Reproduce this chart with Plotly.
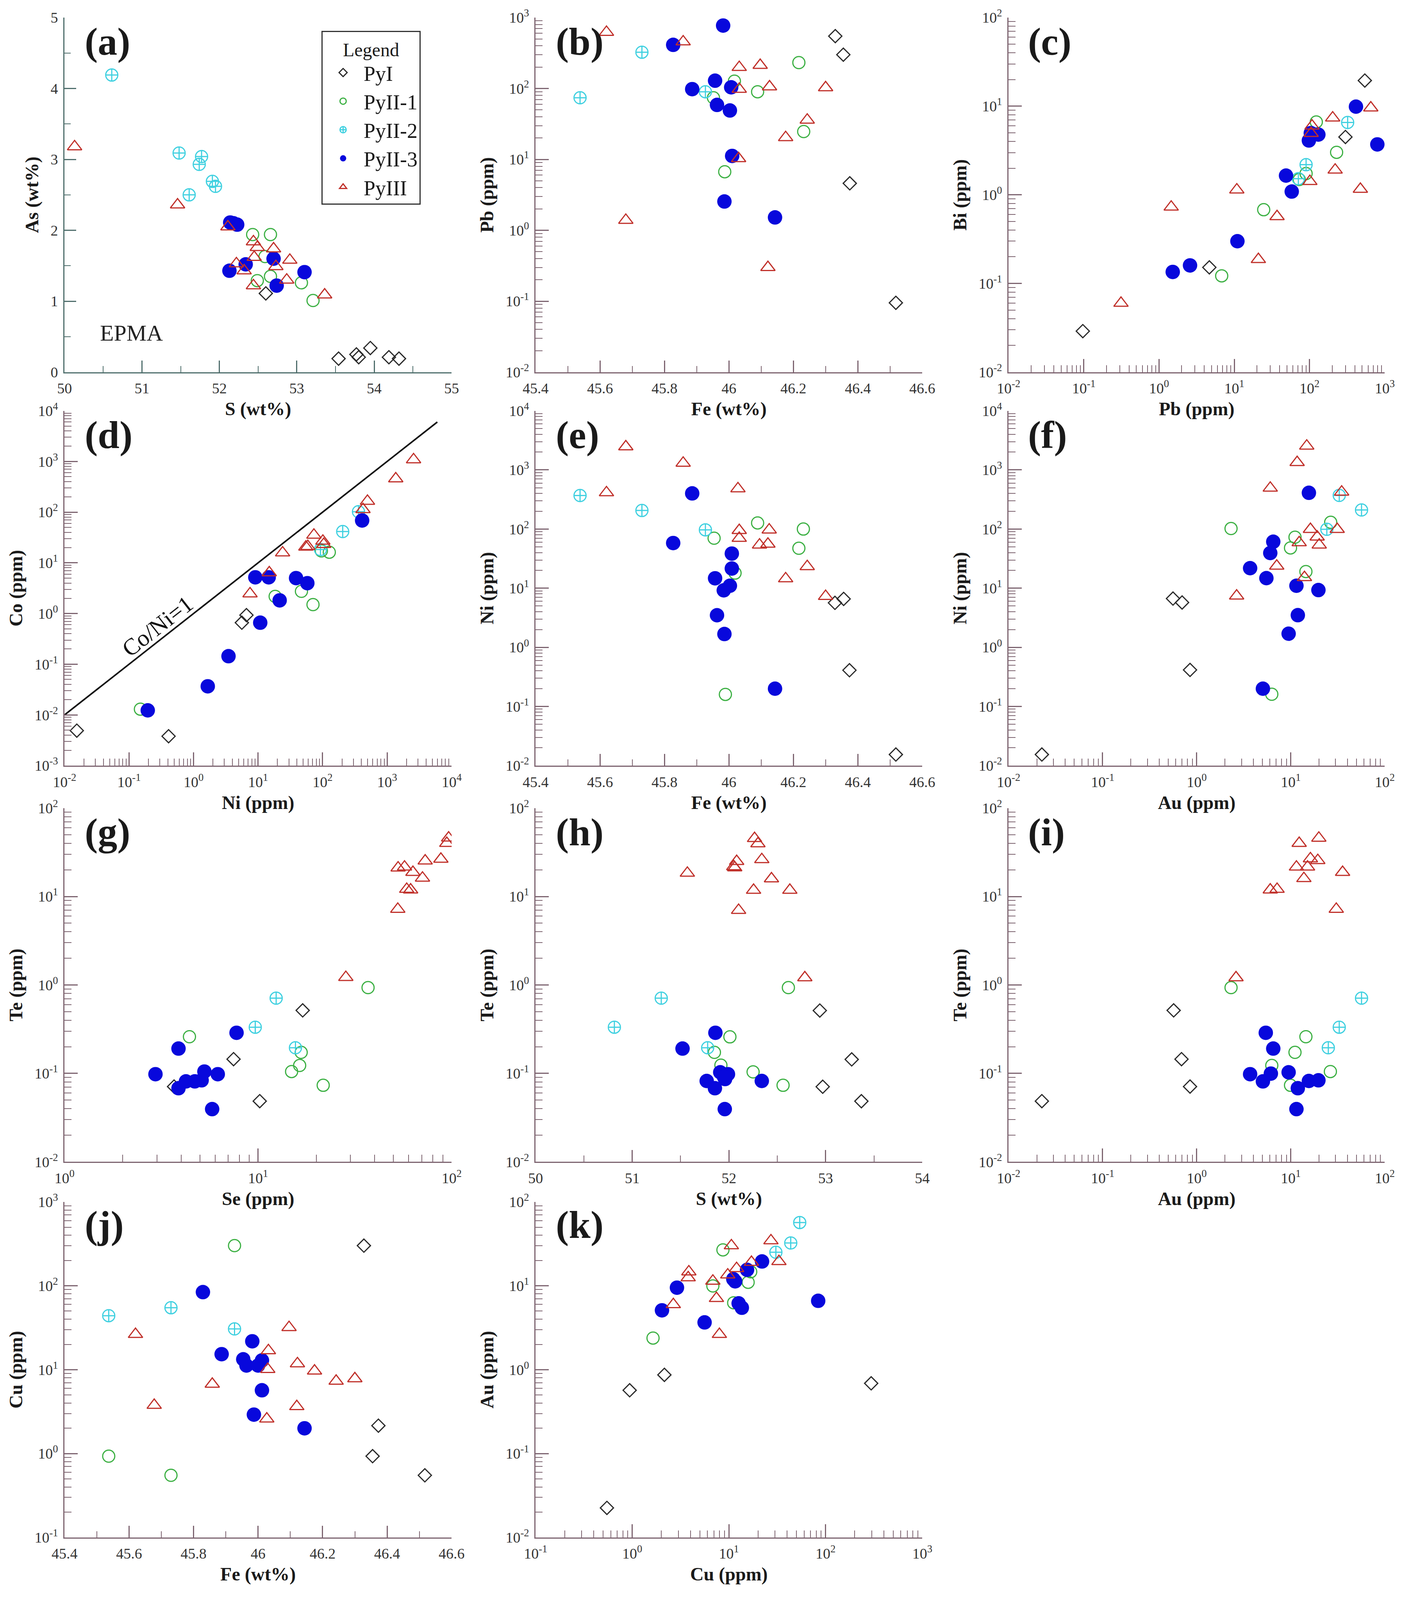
import plotly.graph_objects as go

W, H = 3633, 4615
SERIF = "Liberation Serif"

groups = ["PyI", "PyII-1", "PyII-2", "PyII-3", "PyIII"]

# (a) S (wt%) vs As (wt%)
a_s_py1 = [52.60, 53.54, 53.77, 53.80, 53.95, 54.19, 54.32]
a_as_py1 = [1.11, 0.19, 0.25, 0.21, 0.34, 0.21, 0.19]
a_s_py21 = [52.43, 52.66, 52.59, 52.49, 52.66, 53.06, 53.21]
a_as_py21 = [1.94, 1.94, 1.63, 1.29, 1.35, 1.26, 1.01]
a_s_py22 = [50.61, 51.48, 51.77, 51.74, 51.91, 51.95, 51.61]
a_as_py22 = [4.19, 3.09, 3.04, 2.93, 2.69, 2.62, 2.50]
a_s_py23 = [52.14, 52.23, 52.13, 52.34, 52.70, 52.74, 53.10, 52.18]
a_as_py23 = [2.11, 2.08, 1.43, 1.52, 1.60, 1.22, 1.41, 2.10]
a_s_py3 = [50.13, 51.46, 52.11, 52.44, 52.49, 52.70, 52.45, 52.22, 52.32, 52.73, 52.91, 52.87, 52.44, 53.36]
a_as_py3 = [3.18, 2.36, 2.05, 1.84, 1.76, 1.74, 1.62, 1.53, 1.43, 1.49, 1.58, 1.30, 1.22, 1.09]

# (b) Fe (wt%) vs Pb (ppm)
b_fe_py1 = [46.33, 46.355, 46.375, 46.518]
b_pb_py1 = [548, 300, 4.6, 0.095]
b_fe_py21 = [46.217, 46.017, 46.089, 45.952, 46.232, 45.987]
b_pb_py21 = [232, 127, 90, 74, 24.7, 6.7]
b_fe_py22 = [45.73, 45.538, 45.927]
b_pb_py22 = [325, 74, 90]
b_fe_py23 = [45.982, 45.827, 45.886, 45.957, 46.007, 45.963, 46.003, 46.010, 45.986, 46.143]
b_pb_py23 = [773, 413, 98, 129, 104, 58.7, 49, 11.2, 2.55, 1.52]
b_fe_py3 = [45.62, 45.858, 46.032, 46.097, 46.032, 46.126, 46.30, 46.243, 46.176, 46.030, 45.68, 46.121]
b_pb_py3 = [623, 457, 199, 213, 98, 106, 103, 36, 20.4, 10.3, 1.39, 0.30]

# (c) Pb (ppm) vs Bi (ppm)
c_pb_py1 = [543, 300, 4.66, 0.097]
c_bi_py1 = [19.5, 4.5, 0.152, 0.029]
c_pb_py21 = [123, 229, 24.6, 6.8, 90, 73]
c_bi_py21 = [6.65, 3.02, 0.68, 0.122, 1.74, 1.49]
c_pb_py22 = [321, 90, 71]
c_bi_py22 = [6.56, 2.19, 1.52]
c_pb_py23 = [414, 796, 98, 131, 104, 48.7, 58, 11.0, 2.58, 1.52]
c_bi_py23 = [9.9, 3.71, 4.11, 4.79, 4.98, 1.65, 1.09, 0.30, 0.16, 0.135]
c_pb_py3 = [652, 203, 108, 105, 219, 101, 474, 10.8, 1.45, 37, 20.9, 0.312]
c_bi_py3 = [9.6, 7.4, 6.0, 4.95, 1.91, 1.42, 1.16, 1.14, 0.73, 0.57, 0.187, 0.06]

# (d) Ni (ppm) vs Co (ppm)
d_ni_py1 = [0.0155, 0.41, 5.6, 6.6]
d_co_py1 = [0.0049, 0.0038, 0.66, 0.93]
d_ni_py21 = [0.15, 18.4, 47, 71, 95.7, 127]
d_co_py21 = [0.013, 2.18, 2.74, 1.50, 17.2, 16.2]
d_ni_py22 = [360, 205, 92.6]
d_co_py22 = [102, 41.4, 18.3]
d_ni_py23 = [410, 9.06, 14.6, 38.8, 58, 21.6, 10.8, 3.48, 1.66, 0.195]
d_co_py23 = [68.5, 5.18, 5.18, 5.0, 3.97, 1.82, 0.66, 0.144, 0.0367, 0.0123]
d_ni_py3 = [2570, 1361, 496, 423, 73.3, 101, 104, 55, 59, 24, 14.9, 7.5]
d_co_py3 = [1086, 457, 165, 113, 35.4, 26.9, 23.2, 20.6, 21.1, 15.8, 6.4, 2.46]
co_ni_line = [0.01, 6000]

# (e) Fe (wt%) vs Ni (ppm)
e_fe_py1 = [46.329, 46.356, 46.374, 46.518]
e_ni_py1 = [5.65, 6.59, 0.41, 0.0154]
e_fe_py21 = [46.089, 46.231, 45.954, 46.217, 46.019, 45.989]
e_ni_py21 = [127, 100, 70, 47.3, 18, 0.16]
e_fe_py22 = [45.538, 45.73, 45.927]
e_ni_py22 = [369, 206, 97]
e_fe_py23 = [45.886, 45.827, 46.009, 46.009, 45.957, 46.003, 45.984, 45.963, 45.986, 46.143]
e_ni_py23 = [401, 58, 38.5, 21.5, 14.7, 11.0, 9.2, 3.49, 1.68, 0.2]
e_fe_py3 = [45.68, 45.858, 46.028, 45.62, 46.032, 46.125, 46.032, 46.095, 46.121, 46.243, 46.176, 46.30]
e_ni_py3 = [2470, 1306, 482, 413, 95, 97, 70, 54, 55.8, 23.3, 14.5, 7.3]

# (f) Au (ppm) vs Ni (ppm)
f_au_py1 = [0.0226, 0.56, 0.70, 0.85]
f_ni_py1 = [0.0154, 6.68, 5.73, 0.415]
f_au_py21 = [2.32, 11.1, 9.95, 26.6, 14.5, 6.29]
f_ni_py21 = [102, 72.8, 48, 130, 19.1, 0.161]
f_au_py22 = [32.8, 56.6, 24.2]
f_ni_py22 = [370, 210, 99]
f_au_py23 = [15.6, 6.52, 6.06, 3.7, 5.51, 11.5, 19.7, 11.9, 9.5, 5.06]
f_ni_py23 = [410, 61, 39.3, 21.8, 14.8, 11.0, 9.3, 3.5, 1.70, 0.20]
f_au_py3 = [14.8, 11.7, 6.06, 34.8, 16.2, 31.2, 19.1, 12.3, 20.1, 7.1, 14.0, 2.66]
f_ni_py3 = [2540, 1340, 494, 424, 99, 99, 73.6, 59, 54, 23.7, 15.2, 7.41]

# (g) Se (ppm) vs Te (ppm)
g_se_py1 = [17.0, 7.47, 10.2, 3.68]
g_te_py1 = [0.516, 0.145, 0.0486, 0.071]
g_se_py21 = [37, 4.42, 16.7, 16.4, 14.9, 21.7]
g_te_py21 = [0.933, 0.26, 0.173, 0.123, 0.105, 0.0734]
g_se_py22 = [12.4, 9.67, 15.6]
g_te_py22 = [0.709, 0.333, 0.195]
g_se_py23 = [2.95, 3.88, 7.74, 3.88, 4.24, 4.71, 5.11, 5.28, 6.19, 5.79]
g_te_py23 = [0.098, 0.191, 0.288, 0.068, 0.0813, 0.0813, 0.0836, 0.105, 0.098, 0.0395]
g_se_py3 = [96.5, 94.4, 88, 73, 52.9, 57.1, 63.1, 70.7, 58.6, 61.4, 52.7, 28.4]
g_te_py3 = [46, 40, 26.5, 25.3, 21.1, 21.6, 18.8, 16.2, 12.1, 11.9, 7.2, 1.22]

# (h) S (wt%) vs Te (ppm)
h_s_py1 = [52.94, 53.27, 52.97, 53.37]
h_te_py1 = [0.514, 0.144, 0.0707, 0.0485]
h_s_py21 = [52.615, 52.01, 51.85, 51.917, 52.25, 52.56]
h_te_py21 = [0.933, 0.259, 0.173, 0.124, 0.104, 0.0734]
h_s_py22 = [51.30, 50.815, 51.78]
h_te_py22 = [0.709, 0.333, 0.195]
h_s_py23 = [51.86, 51.52, 51.91, 51.99, 51.96, 51.77, 51.855, 52.34, 51.957, 51.95]
h_te_py23 = [0.288, 0.191, 0.103, 0.098, 0.0864, 0.0822, 0.068, 0.0822, 0.0395, 0.091]
h_s_py3 = [52.265, 52.30, 52.34, 52.08, 52.05, 52.06, 51.57, 52.44, 52.255, 52.63, 52.10, 52.785]
h_te_py3 = [45.4, 39.6, 26.2, 25.0, 21.8, 21.2, 18.4, 15.9, 11.8, 11.8, 7.0, 1.21]

# (i) Au (ppm) vs Te (ppm)
i_au_py1 = [0.0226, 0.569, 0.69, 0.85]
i_te_py1 = [0.0486, 0.516, 0.145, 0.071]
i_au_py21 = [2.32, 14.5, 11.1, 6.29, 26.4, 9.95]
i_te_py21 = [0.933, 0.26, 0.173, 0.123, 0.105, 0.0734]
i_au_py22 = [56.6, 32.8, 25.1]
i_te_py22 = [0.709, 0.333, 0.195]
i_au_py23 = [5.43, 6.52, 3.7, 6.15, 9.5, 5.06, 11.9, 15.6, 19.7, 11.5]
i_te_py23 = [0.288, 0.191, 0.098, 0.0995, 0.103, 0.0813, 0.068, 0.0822, 0.0836, 0.0395]
i_au_py3 = [19.9, 12.3, 16.2, 19.4, 11.5, 15.1, 35.6, 13.8, 6.06, 7.16, 30.5, 2.62]
i_te_py3 = [45.8, 40, 26.8, 25.6, 21.6, 21.6, 18.8, 16.0, 11.9, 12.1, 7.2, 1.21]

# (j) Fe (wt%) vs Cu (ppm)
j_fe_py1 = [46.328, 46.373, 46.355, 46.517]
j_cu_py1 = [301, 2.15, 0.93, 0.55]
j_fe_py21 = [45.927, 45.537, 45.73]
j_cu_py21 = [301, 0.93, 0.55]
j_fe_py22 = [45.537, 45.73, 45.927]
j_cu_py22 = [44, 54.7, 30.6]
j_fe_py23 = [45.829, 45.982, 45.887, 45.954, 45.964, 46.0, 46.012, 46.012, 45.987, 46.144]
j_cu_py23 = [84, 21.8, 15.3, 13.3, 11.2, 11.2, 12.9, 5.68, 2.91, 2.0]
j_fe_py3 = [45.62, 45.678, 45.858, 46.096, 46.032, 46.03, 46.122, 46.175, 46.242, 46.30, 46.12, 46.027]
j_cu_py3 = [26.4, 3.77, 6.73, 31.9, 16.9, 10.1, 11.8, 9.66, 7.31, 7.82, 3.64, 2.59]

# (k) Cu (ppm) vs Au (ppm)
k_cu_py1 = [0.547, 0.94, 2.15, 296]
k_au_py1 = [0.0225, 0.568, 0.867, 0.687]
k_cu_py21 = [1.64, 8.67, 6.82, 15.8, 16.8, 11.2]
k_au_py21 = [2.38, 26.8, 9.97, 11.0, 14.7, 6.27]
k_cu_py22 = [54, 43.6, 30.6]
k_au_py22 = [56.8, 32.4, 25.1]
k_cu_py23 = [2.03, 2.9, 5.6, 11.1, 15.4, 22.0, 12.6, 13.6, 83.8, 11.6]
k_au_py23 = [5.1, 9.5, 3.66, 12.0, 15.5, 19.5, 6.18, 5.47, 6.62, 11.3]
k_cu_py3 = [27.2, 10.6, 32.9, 17.1, 12.0, 3.85, 3.79, 9.72, 6.82, 2.66, 7.43, 7.97]
k_au_py3 = [34.5, 30.1, 19.5, 19.1, 16.1, 14.7, 12.5, 13.5, 11.4, 5.98, 7.08, 2.64]

# marker look per group
styles = {
    "PyI": dict(symbol="diamond-open", size=26, color="#2a2a2a", line=dict(width=3, color="#2a2a2a")),
    "PyII-1": dict(symbol="circle-open", size=31, color="#3cb043", line=dict(width=3, color="#3cb043")),
    "PyII-2": dict(symbol="circle-cross-open", size=31, color="#3fd0e0", line=dict(width=3, color="#3fd0e0")),
    "PyII-3": dict(symbol="circle", size=37, color="#0808dc", line=dict(width=0)),
    "PyIII": dict(symbol="triangle-up-open", size=32, color="#c0302a", line=dict(width=3, color="#c0302a")),
}

# label, xs, ys, x axis spec, y axis spec, x title, y title
panels = [
    ("(a)", [a_s_py1, a_s_py21, a_s_py22, a_s_py23, a_s_py3], [a_as_py1, a_as_py21, a_as_py22, a_as_py23, a_as_py3],
     ("lin", 50, 55, 1, 0.5), ("lin", 0, 5, 1, 0.5), "S (wt%)", "As (wt%)"),
    ("(b)", [b_fe_py1, b_fe_py21, b_fe_py22, b_fe_py23, b_fe_py3], [b_pb_py1, b_pb_py21, b_pb_py22, b_pb_py23, b_pb_py3],
     ("lin", 45.4, 46.6, 0.2, 0.1), ("log", -2, 3), "Fe (wt%)", "Pb (ppm)"),
    ("(c)", [c_pb_py1, c_pb_py21, c_pb_py22, c_pb_py23, c_pb_py3], [c_bi_py1, c_bi_py21, c_bi_py22, c_bi_py23, c_bi_py3],
     ("log", -2, 3), ("log", -2, 2), "Pb (ppm)", "Bi (ppm)"),
    ("(d)", [d_ni_py1, d_ni_py21, d_ni_py22, d_ni_py23, d_ni_py3], [d_co_py1, d_co_py21, d_co_py22, d_co_py23, d_co_py3],
     ("log", -2, 4), ("log", -3, 4), "Ni (ppm)", "Co (ppm)"),
    ("(e)", [e_fe_py1, e_fe_py21, e_fe_py22, e_fe_py23, e_fe_py3], [e_ni_py1, e_ni_py21, e_ni_py22, e_ni_py23, e_ni_py3],
     ("lin", 45.4, 46.6, 0.2, 0.1), ("log", -2, 4), "Fe (wt%)", "Ni (ppm)"),
    ("(f)", [f_au_py1, f_au_py21, f_au_py22, f_au_py23, f_au_py3], [f_ni_py1, f_ni_py21, f_ni_py22, f_ni_py23, f_ni_py3],
     ("log", -2, 2), ("log", -2, 4), "Au (ppm)", "Ni (ppm)"),
    ("(g)", [g_se_py1, g_se_py21, g_se_py22, g_se_py23, g_se_py3], [g_te_py1, g_te_py21, g_te_py22, g_te_py23, g_te_py3],
     ("log", 0, 2), ("log", -2, 2), "Se (ppm)", "Te (ppm)"),
    ("(h)", [h_s_py1, h_s_py21, h_s_py22, h_s_py23, h_s_py3], [h_te_py1, h_te_py21, h_te_py22, h_te_py23, h_te_py3],
     ("lin", 50, 54, 1, 0.5), ("log", -2, 2), "S (wt%)", "Te (ppm)"),
    ("(i)", [i_au_py1, i_au_py21, i_au_py22, i_au_py23, i_au_py3], [i_te_py1, i_te_py21, i_te_py22, i_te_py23, i_te_py3],
     ("log", -2, 2), ("log", -2, 2), "Au (ppm)", "Te (ppm)"),
    ("(j)", [j_fe_py1, j_fe_py21, j_fe_py22, j_fe_py23, j_fe_py3], [j_cu_py1, j_cu_py21, j_cu_py22, j_cu_py23, j_cu_py3],
     ("lin", 45.4, 46.6, 0.2, 0.1), ("log", -1, 3), "Fe (wt%)", "Cu (ppm)"),
    ("(k)", [k_cu_py1, k_cu_py21, k_cu_py22, k_cu_py23, k_cu_py3], [k_au_py1, k_au_py21, k_au_py22, k_au_py23, k_au_py3],
     ("log", -1, 3), ("log", -2, 2), "Cu (ppm)", "Au (ppm)"),
]

# plot-area boxes in pixels of the reference image (last row raised a little
# so its axis titles stay inside the page)
cols = [(158, 1154), (1370, 2365), (2587, 3555)]
rows = [(42, 1069), (1181, 2209), (2332, 3357), (3473, 4445)]


def axis_cfg(spec, title, domain, anchor, color):
    d = dict(domain=domain, anchor=anchor, automargin=False, showline=True, linecolor=color, linewidth=3,
             ticks="inside", tickcolor=color, tickwidth=3, showgrid=False, zeroline=False,
             mirror=False, ticklabelstandoff=6,
             title=dict(text=title, standoff=16,
                        font=dict(size=48, family=SERIF, color="#1a1a1a", weight="bold")),
             tickfont=dict(size=38, family=SERIF, color="#333333"))
    if spec[0] == "log":
        lo, hi = spec[1], spec[2]
        d.update(type="log", range=[lo, hi], tickmode="array",
                 tickvals=[10.0 ** p for p in range(lo, hi + 1)],
                 ticktext=["10<sup>%d</sup>" % p for p in range(lo, hi + 1)],
                 ticklen=34,
                 minor=dict(tickmode="array", ticks="inside", ticklen=18, tickcolor=color, tickwidth=2,
                            tickvals=[m * 10.0 ** p for p in range(lo, hi) for m in range(2, 10)]))
    else:
        lo, hi, step, mstep = spec[1:]
        d.update(type="linear", range=[lo, hi], tick0=lo, dtick=step, ticklen=30,
                 minor=dict(tick0=lo, dtick=mstep, ticks="inside", ticklen=16, tickcolor=color, tickwidth=2))
    return d


fig = go.Figure()
layout = {}
annotations = []

for n, (label, xs, ys, xspec, yspec, xt, yt) in enumerate(panels):
    i = n + 1
    sfx = "" if i == 1 else str(i)
    r, c = divmod(n, 3)
    xl, xr = cols[c]
    yt_px, yb_px = rows[r]
    xdom = [xl / W, xr / W]
    ydom = [1 - yb_px / H, 1 - yt_px / H]
    color = "#4f6e6c" if i == 1 else "#7d6470"
    layout["xaxis" + sfx] = axis_cfg(xspec, xt, xdom, "y" + sfx, color)
    layout["yaxis" + sfx] = axis_cfg(yspec, yt, ydom, "x" + sfx, color)

    if label == "(d)":
        fig.add_trace(go.Scatter(x=co_ni_line, y=co_ni_line, mode="lines", showlegend=False,
                                 line=dict(color="#111111", width=4), xaxis="x" + sfx, yaxis="y" + sfx))
        annotations.append(dict(text="Co/Ni=1", x=-0.556, y=-0.25, xref="x" + sfx, yref="y" + sfx,
                                showarrow=False, textangle=-38,
                                font=dict(size=60, family=SERIF, color="#111111")))

    for g, xv, yv in zip(groups, xs, ys):
        st = styles[g]
        fig.add_trace(go.Scatter(
            x=xv, y=yv, mode="markers", name=g, legendgroup=g, showlegend=(i == 1),
            marker=dict(symbol=st["symbol"], size=st["size"], color=st["color"], line=st["line"]),
            xaxis="x" + sfx, yaxis="y" + sfx))

    annotations.append(dict(text="<b>%s</b>" % label, x=0.05, y=0.932, xref="x%s domain" % sfx,
                            yref="y%s domain" % sfx, xanchor="left", yanchor="middle", showarrow=False,
                            font=dict(size=100, family=SERIF, color="#1a1a1a")))

annotations.append(dict(text="EPMA", x=0.09, y=0.11, xref="x domain", yref="y domain",
                        xanchor="left", yanchor="middle", showarrow=False,
                        font=dict(size=58, family=SERIF, color="#222222")))

# no fixed size: the figure fills the browser window, so nothing is cut off
fig.update_layout(
    autosize=True,
    margin=dict(l=0, r=0, t=0, b=0, autoexpand=False),
    paper_bgcolor="white", plot_bgcolor="white",
    font=dict(family=SERIF, color="#222222"),
    annotations=annotations,
    legend=dict(x=819 / W, y=1 - 80 / H, xanchor="left", yanchor="top",
                bgcolor="white", bordercolor="#333333", borderwidth=3,
                font=dict(size=54, family=SERIF, color="#1a1a1a"),
                title=dict(text="Legend", side="top center", font=dict(size=48, family=SERIF)),
                itemwidth=95, tracegroupgap=0),
    **layout,
)

fig.write_html("out.html", default_width="calc(100vw - 18px)", default_height="calc(100vh - 18px)")
